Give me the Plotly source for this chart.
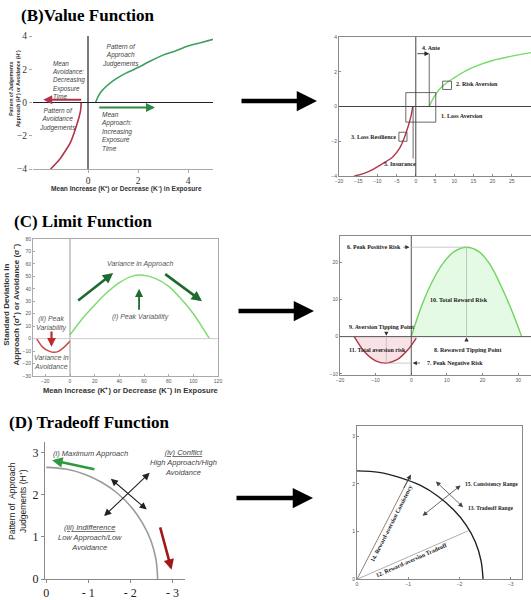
import plotly.graph_objects as go

W, H = 531, 600

# ---------------- data ----------------
# (B) value function, left
b_green_x = [0.3, 0.5, 1.0, 1.5, 2.0, 2.5, 3.0, 3.5, 4.0, 4.5, 5.0]
b_green_y = [0.0, 0.6, 1.3, 1.75, 2.1, 2.5, 2.85, 3.1, 3.4, 3.6, 3.8]
b_red_x = [-0.27, -0.3, -0.4, -0.55, -0.7, -0.9, -1.1, -1.3, -1.5]
b_red_y = [0.0, -0.5, -1.1, -1.8, -2.4, -2.9, -3.35, -3.7, -4.0]
b_yticks = [-4, -2, 0, 2, 4]
b_xticks = [0, 2, 4]

# (B) value function, right
br_green_x = [3.5, 4.5, 6, 8, 10, 13, 16, 20, 25, 30]
br_green_y = [0.0, 0.45, 0.95, 1.35, 1.65, 2.05, 2.35, 2.65, 2.9, 3.1]
br_red_x = [-0.8, -1.3, -2, -3, -4.2, -6, -8, -11, -13.5, -16]
br_red_y = [0.0, -0.6, -1.15, -1.8, -2.4, -2.9, -3.2, -3.6, -3.85, -4.0]

# (C) limit function, left
c_green_x = [0, 10, 20, 30, 40, 50, 58, 70, 80, 90, 100, 108, 113]
c_green_y = [3, 16, 27, 37, 45, 50, 51, 48, 42, 32, 20, 8, 0]
c_red_x = [-27, -22, -17, -13, -9, -5, 0]
c_red_y = [0, -7, -10, -11, -10, -7, -2]

# (C) limit function, right
cr_green_x = [0, 3, 6, 9, 12, 15.5, 19, 22, 25, 28, 31]
cr_green_y = [0, 8.5, 15, 19.8, 22.8, 24, 22.8, 19.5, 14, 7.5, 0]
cr_red_x = [-16, -13, -10, -7, -4, -1, 1.4]
cr_red_y = [0, -4.2, -6.5, -7.1, -6.2, -3.6, -0.4]

# (D) tradeoff function, left (quarter arc)
d_arc_x = [-2.65, -2.61, -2.49, -2.29, -2.03, -1.70, -1.325, -0.91, -0.46, 0.0]
d_arc_y = [0.0, 0.46, 0.91, 1.325, 1.70, 2.03, 2.29, 2.49, 2.61, 2.65]
d_xticks = [0, -1, -2, -3]
d_xticklabels = ["0", "- 1", "- 2", "- 3"]
d_yticks = [0, 1, 2, 3]

# (D) tradeoff function, right
dr_arc_x = [-2.46, -2.42, -2.31, -2.13, -1.88, -1.58, -1.23, -0.84, -0.43, 0.0]
dr_arc_y = [0.0, 0.39, 0.78, 1.135, 1.46, 1.74, 1.97, 2.13, 2.24, 2.27]

SERIF = "Liberation Serif, Times New Roman, serif"
SANS = "Liberation Sans, Arial, sans-serif"


def px_x(p):
    return p / W


def px_y(p):
    return 1 - p / H


fig = go.Figure()

# ---------- traces ----------
GREEN_B = "#3d9e5f"
RED_B = "#b2344a"
fig.add_trace(go.Scatter(x=b_green_x, y=b_green_y, mode="lines", line=dict(color=GREEN_B, width=1.6, shape="spline"),
                         xaxis="x", yaxis="y"))
fig.add_trace(go.Scatter(x=b_red_x, y=b_red_y, mode="lines", line=dict(color=RED_B, width=1.6, shape="spline"),
                         xaxis="x", yaxis="y"))

fig.add_trace(go.Scatter(x=br_green_x, y=br_green_y, mode="lines", line=dict(color="#74dc66", width=1.4, shape="spline"),
                         xaxis="x2", yaxis="y2"))
fig.add_trace(go.Scatter(x=br_red_x, y=br_red_y, mode="lines", line=dict(color="#b2344a", width=1.4, shape="spline"),
                         xaxis="x2", yaxis="y2"))

fig.add_trace(go.Scatter(x=c_green_x, y=c_green_y, mode="lines", line=dict(color="#7ddc6e", width=1.5, shape="spline"),
                         xaxis="x3", yaxis="y3"))
fig.add_trace(go.Scatter(x=c_red_x, y=c_red_y, mode="lines", line=dict(color="#cc4a4a", width=1.5, shape="spline"),
                         xaxis="x3", yaxis="y3"))

fig.add_trace(go.Scatter(x=cr_green_x, y=cr_green_y, mode="lines", fill="tozeroy", fillcolor="rgba(150,235,150,0.25)",
                         line=dict(color="#6ed45e", width=1.4, shape="spline"), xaxis="x4", yaxis="y4"))
fig.add_trace(go.Scatter(x=cr_red_x, y=cr_red_y, mode="lines", fill="tozeroy", fillcolor="rgba(235,160,170,0.3)",
                         line=dict(color="#b2344a", width=1.4, shape="spline"), xaxis="x4", yaxis="y4"))

fig.add_trace(go.Scatter(x=d_arc_x, y=d_arc_y, mode="lines", line=dict(color="#9a9a9a", width=1.6, shape="spline"),
                         xaxis="x5", yaxis="y5"))
fig.add_trace(go.Scatter(x=dr_arc_x, y=dr_arc_y, mode="lines", line=dict(color="#222222", width=1.4, shape="spline"),
                         xaxis="x6", yaxis="y6"))


# ---------- axes ----------
def dom(x0, x1, y0, y1):
    return [px_x(x0), px_x(x1)], [px_y(y1), px_y(y0)]


def make_axes(n, xd, yd, xr, yr, mirror, tickfont, xticks=None, yticks=None, xtt=None, ytt=None,
              linecolor="#888", showline=True, ticks="inside", xline=True, yline=True, ticklen=2):
    suffix = "" if n == 1 else str(n)
    common = dict(showgrid=False, zeroline=False, linecolor=linecolor, linewidth=1, mirror=mirror, ticks=ticks,
                  ticklen=ticklen, tickcolor=linecolor, tickfont=tickfont, fixedrange=True, automargin=False)
    xa = dict(domain=xd, range=xr, showline=xline and showline, anchor="y" + suffix, **common)
    ya = dict(domain=yd, range=yr, showline=yline and showline, anchor="x" + suffix, **common)
    if xticks is not None:
        xa["tickvals"] = xticks
        if xtt is not None:
            xa["ticktext"] = xtt
    if yticks is not None:
        ya["tickvals"] = yticks
        if ytt is not None:
            ya["ticktext"] = ytt
    fig.layout["xaxis" + suffix] = xa
    fig.layout["yaxis" + suffix] = ya


tiny = dict(family=SANS, size=5, color="#555")

xd, yd = dom(33, 213, 36, 169)
make_axes(1, xd, yd, [-2.2, 5], [-4, 4], False, dict(family=SERIF, size=9.5, color="#333"),
          xticks=b_xticks, yticks=b_yticks, linecolor="#aaa", ticks="outside", yline=False, ticklen=3)
xd, yd = dom(339, 531, 37, 176)
make_axes(2, xd, yd, [-20, 30], [-4, 4], True, tiny, xticks=[-20, -15, -10, -5, 0, 5, 10, 15, 20, 25, 30],
          yticks=[-4, -2, 0, 2, 4])
xd, yd = dom(33, 218, 239, 376)
make_axes(3, xd, yd, [-30, 120], [-30, 80], True, tiny, xticks=[-20, 0, 20, 40, 60, 80, 100, 120],
          yticks=[-30, -20, -10, 0, 10, 20, 30, 40, 50, 60, 70, 80], linecolor="#aaa")
xd, yd = dom(340, 531, 236, 375)
make_axes(4, xd, yd, [-20, 33.6], [-10.3, 27], True, tiny, xticks=[-20, -10, 0, 10, 20, 30],
          yticks=[-10, 0, 10, 20])
xd, yd = dom(45, 185, 441.7, 579)
make_axes(5, xd, yd, [0.03, -3.3], [0, 3.26], False, dict(family=SERIF, size=12, color="#222"),
          xticks=d_xticks, xtt=d_xticklabels, yticks=d_yticks, linecolor="#888", ticks="outside", ticklen=3)
xd, yd = dom(357, 522, 426, 579.3)
make_axes(6, xd, yd, [0.0, -3.22], [0, 3.21], True, tiny, xticks=[0, -1, -2, -3], yticks=[0, 1, 2, 3])

shapes = []
ann = []


def line(xr, yr, x0, y0, x1, y1, color="#333", width=1, dash=None):
    d = dict(type="line", xref=xr, yref=yr, x0=x0, y0=y0, x1=x1, y1=y1, line=dict(color=color, width=width))
    if dash:
        d["line"]["dash"] = dash
    shapes.append(d)


def rect(xr, yr, x0, y0, x1, y1, color="#444", width=0.8):
    shapes.append(dict(type="rect", xref=xr, yref=yr, x0=x0, y0=y0, x1=x1, y1=y1, line=dict(color=color, width=width)))


def text(xr, yr, x, y, t, size=7, color="#444", italic=False, bold=False, family=SANS, xanchor="center",
         align="center", angle=0, yanchor="middle"):
    if italic:
        t = "<i>" + t.replace("<br>", "</i><br><i>") + "</i>"
    if bold:
        t = "<b>" + t.replace("<br>", "</b><br><b>") + "</b>"
    ann.append(dict(xref=xr, yref=yr, x=x, y=y, text=t, showarrow=False, xanchor=xanchor, yanchor=yanchor,
                    align=align, textangle=angle, font=dict(size=size, color=color, family=family)))


def arrow(xr, yr, x0, y0, x1, y1, color="#000", width=1.5, head=2, size=1.0, side="end"):
    ann.append(dict(xref=xr, yref=yr, axref=xr, ayref=yr, x=x1, y=y1, ax=x0, ay=y0, text="", showarrow=True,
                    arrowhead=head, arrowsize=size, arrowwidth=width, arrowcolor=color, arrowside=side,
                    startarrowhead=head, startarrowsize=size, standoff=0, startstandoff=0))


def big_arrow(py, x0, x1):
    ann.append(dict(xref="paper", yref="paper", x=px_x(x1), y=px_y(py), ax=x0 - x1, ay=0, text="",
                    showarrow=True, arrowhead=2, arrowsize=0.9, arrowwidth=4.5, arrowcolor="#000"))


# ---------- panel titles ----------
def title(px, py, t):
    ann.append(dict(xref="paper", yref="paper", x=px_x(px), y=px_y(py), text="<b>" + t + "</b>", showarrow=False,
                    xanchor="left", yanchor="middle", font=dict(family=SERIF, size=17, color="#000")))


title(19, 16, "(B)Value Function")
title(12, 221, "(C) Limit Function")
title(7, 422, "(D) Tradeoff Function")

big_arrow(101, 240, 317)
big_arrow(311, 237, 314)
big_arrow(498, 235, 313)

# ---------- (B) left ----------
line("x", "y", 0, -4, 0, 4, "#222", 1.2)
line("x", "y", -2.2, 0, 5, 0, "#222", 1.2)
arrow("x", "y", -0.21, 0.16, -1.79, 0.16, color=RED_B, width=2, head=2, size=0.9)
arrow("x", "y", 0.39, -0.3, 2.68, -0.3, color="#2e8a40", width=2, head=2, size=0.9)
text("x", "y", -1.52, 1.36, "Mean<br>Avoidance:<br>Decreasing<br>Exposure<br>Time", size=6.3, italic=True,
     xanchor="left", align="left")
text("x", "y", 1.28, 2.8, "Pattern of<br>Approach<br>Judgements", size=6.5, italic=True)
text("x", "y", -1.24, -1.0, "Pattern of<br>Avoidance<br>Judgements", size=6.5, italic=True)
text("x", "y", 0.44, -1.75, "Mean<br>Approach:<br>Increasing<br>Exposure<br>Time", size=6.5, italic=True,
     xanchor="left", align="left")
text("paper", "paper", px_x(15), px_y(89), "<b>Pattern of Judgements</b><br><b>Approach (H⁺) or Avoidance (H⁻)</b>",
     size=5, color="#333", angle=-90)
text("paper", "paper", px_x(126), px_y(189), "<b>Mean Increase (K⁺) or Decrease (K⁻) in Exposure</b>", size=6.6,
     color="#333")

# ---------- (B) right ----------
line("x2", "y2", 0, -4, 0, 4, "#444", 1)
line("x2", "y2", -20, 0, 30, 0, "#444", 1)
rect("x2", "y2", -2.6, -0.9, 5.2, 0.8)
rect("x2", "y2", 7, 0.98, 9.3, 1.46)
rect("x2", "y2", -4.4, -2.0, -2.3, -1.48)
line("x2", "y2", 3.5, 0, 3.5, 3.04, "#444", 0.8)
arrow("x2", "y2", 0, 3.04, 3.5, 3.04, color="#222", width=0.8, head=2, size=1.2)
line("x2", "y2", -0.7, 0, -0.7, -3.0, "#444", 0.8)
arrow("x2", "y2", 0, -3.0, -0.7, -3.0, color="#222", width=0.8, head=2, size=1.2)
sb = dict(size=6, color="#222", bold=True, family=SERIF)
text("x2", "y2", 1, 3.35, "4. Ante", xanchor="left", **sb)
text("x2", "y2", 9.9, 1.29, "2. Risk Aversion", xanchor="left", **sb)
text("x2", "y2", 6.1, -0.56, "1. Loss Aversion", xanchor="left", **sb)
text("x2", "y2", -4.6, -1.75, "3. Loss Resilience", xanchor="right", **sb)
text("x2", "y2", -4.0, -3.3, "5. Insurance", **sb)

# ---------- (C) left ----------
line("x3", "y3", 0, -30, 0, 80, "#999", 1)
line("x3", "y3", -30, 0, 120, 0, "#ccc", 1)
DG = "#1f6b2f"
arrow("x3", "y3", 5.4, 29.6, 35, 52.7, color=DG, width=2.6, head=2, size=0.8)
arrow("x3", "y3", 76, 52.7, 107, 30, color=DG, width=2.6, head=2, size=0.8)
arrow("x3", "y3", 56, 22, 56, 40, color=DG, width=1.8, head=2, size=0.9)
arrow("x3", "y3", -15, 7, -15, -6.5, color="#c02a2a", width=2.2, head=2, size=0.8)
text("x3", "y3", 57, 60, "Variance in Approach", size=7, italic=True, color="#555")
text("x3", "y3", 57, 17, "(i) Peak Variability", size=7, italic=True, color="#555")
text("x3", "y3", -15, 12.5, "(ii) Peak<br>Variability", size=7, italic=True, color="#555")
text("x3", "y3", -15, -19, "Variance in<br>Avoidance", size=7, italic=True, color="#555")
text("paper", "paper", px_x(10.5), px_y(305), "<b>Standard Deviation in</b><br><b>Approach (σ⁺) or Avoidance (σ⁻)</b>",
     size=8, color="#333", angle=-90)
text("paper", "paper", px_x(130), px_y(391), "<b>Mean Increase (K⁺) or Decrease (K⁻) in Exposure</b>", size=7.6,
     color="#333")

# ---------- (C) right ----------
line("x4", "y4", 0, -10.3, 0, 27, "#555", 1)
line("x4", "y4", -20, 0, 33.6, 0, "#555", 1)
line("x4", "y4", 0, 24, 15.5, 24, "#bbb", 0.8)
line("x4", "y4", 15.5, 0, 15.5, 24, "#bbb", 0.8)
line("x4", "y4", -7, 0, -7, -7.1, "#bbb", 0.8)
line("x4", "y4", -7, -7.1, 0, -7.1, "#bbb", 0.8)
arrow("x4", "y4", -2.6, 24, -0.5, 24, color="#333", width=0.7, head=2, size=1.2)
arrow("x4", "y4", 2.9, -7.1, 0.4, -7.1, color="#333", width=0.7, head=2, size=1.2)
arrow("x4", "y4", -7, 1.6, -7, 0.2, color="#333", width=0.7, head=2, size=1.2)
arrow("x4", "y4", 15.5, -1.6, 15.5, -0.2, color="#333", width=0.7, head=2, size=1.2)
text("x4", "y4", -18.6, 24, "6. Peak Positive Risk", xanchor="left", **sb)
text("x4", "y4", 13.3, 9.8, "10. Total Reward Risk", **sb)
text("x4", "y4", -8.4, 2.7, "9. Aversion Tipping Point", **sb)
text("x4", "y4", -9.6, -3.6, "11. Total aversion risk", **sb)
text("x4", "y4", 15.8, -3.6, "8. Rewawrd Tipping Point", **sb)
text("x4", "y4", 3.9, -7.1, "7. Peak Negative Risk", xanchor="left", **sb)

# ---------- (D) left ----------
arrow("x5", "y5", -1.18, 2.6, -0.14, 2.82, color="#2e9a3e", width=2.6, head=2, size=0.8)
arrow("x5", "y5", -2.7, 1.26, -2.98, 0.22, color="#a01818", width=2.6, head=2, size=0.8)
arrow("x5", "y5", -1.5, 2.41, -2.39, 1.65, color="#222", width=1.1, head=2, size=1.3, side="end+start")
arrow("x5", "y5", -1.34, 1.46, -2.46, 2.52, color="#222", width=1.1, head=2, size=1.3, side="end+start")
text("x5", "y5", -0.12, 2.97, "(i) Maximum Approach", size=7.5, italic=True, color="#444", xanchor="left")
text("x5", "y5", -3.27, 2.76, "<u>(iv) Conflict</u><br>High Approach/High<br>Avoidance", size=7.5, italic=True,
     color="#444")
text("x5", "y5", -1.04, 0.98, "<u>(iii) Indifference</u><br>Low Approach/Low<br>Avoidance", size=7.5, italic=True,
     color="#444")
text("x5", "y5", -3.75, 0.31, "(ii) Maximum<br>Avoidance", size=7.5, italic=True, color="#444")
text("paper", "paper", px_x(17), px_y(501), "Pattern of  Approach<br>Judgements (H⁺)", size=8.5, color="#222",
     angle=-90)

# ---------- (D) right ----------
sd = dict(size=5.5, color="#222", bold=True, family=SERIF)
sd6 = dict(size=6, color="#222", bold=True, family=SERIF)
line("x6", "y6", 0, 0, -1.05, 2.19, "#666", 0.8)
arrow("x6", "y6", -0.9, 1.88, -1.05, 2.19, color="#333", width=0.8, head=2, size=1.2)
line("x6", "y6", 0, 0, -2.18, 1.02, "#999", 0.8)
arrow("x6", "y6", -2.05, 1.99, -1.28, 1.33, color="#444", width=0.8, head=2, size=1.2, side="end+start")
arrow("x6", "y6", -1.51, 2.08, -2.07, 1.51, color="#444", width=0.8, head=2, size=1.2, side="end+start")
text("x6", "y6", -2.07, 1.99, "15. Consistency Range", xanchor="left", **sd)
text("x6", "y6", -2.13, 1.5, "13. Tradeoff Range", xanchor="left", **sd)
text("x6", "y6", -0.68, 1.17, "14. Reward-aversion Consistency", angle=-63, **sd6)
text("x6", "y6", -1.07, 0.40, "12. Reward-aversion Tradeoff", angle=-23.7, **sd6)

fig.update_layout(width=W, height=H, margin=dict(l=0, r=0, t=0, b=0, autoexpand=False), showlegend=False,
                  plot_bgcolor="white", paper_bgcolor="white", shapes=shapes, annotations=ann)

# the page body carries a default 8px margin; drop it so the figure fills the 531x600 window
fig.write_html("out.html", config={"displayModeBar": False},
               post_script="document.body.style.margin='0';document.body.style.overflow='hidden';")
